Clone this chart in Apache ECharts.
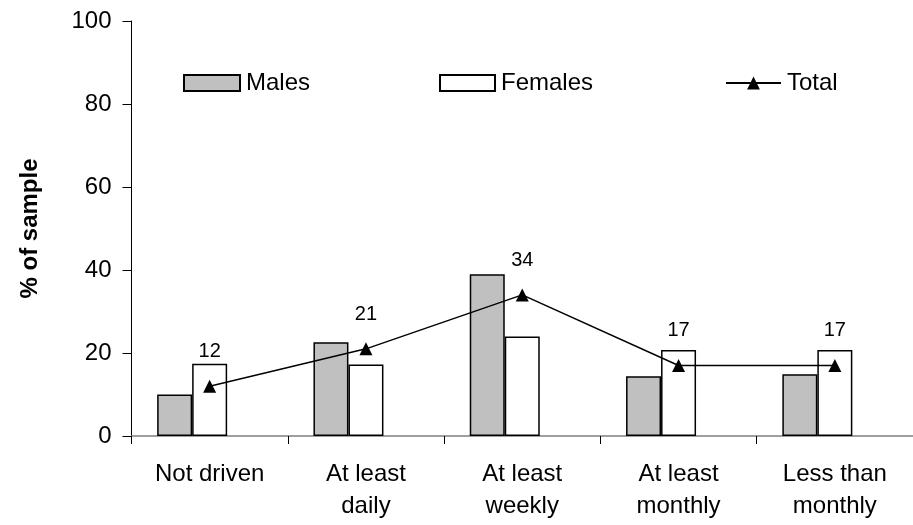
<!DOCTYPE html>
<html>
<head>
<meta charset="utf-8">
<script src="https://cdn.jsdelivr.net/npm/echarts@6/dist/echarts.min.js"></script>
<style>html,body{margin:0;padding:0;background:#fff}#c{width:913px;height:525px}</style>
</head>
<body>
<div id="c"></div>
<script>
var categories = ['Not driven', 'At least\ndaily', 'At least\nweekly', 'At least\nmonthly', 'Less than\nmonthly'];
var males = [10, 22.6, 39, 14.4, 14.9];
var females = [17.4, 17.2, 24, 20.7, 20.7];
var total = [12, 21, 34, 17, 17];
var yTicks = [0, 20, 40, 60, 80, 100];

var font = 'Liberation Sans, Arial, sans-serif';
var chart = echarts.init(document.getElementById('c'));
var legText = { fontSize: 24, color: '#000', fontFamily: font, padding: [0, 0, 0, 1] };
chart.setOption({
  animation: false,
  textStyle: { fontFamily: font, color: '#000' },
  grid: { left: 131.5, top: 21, width: 792, bottom: 89, containLabel: false },
  legend: [
    { data: ['Males'], left: 178, top: 66, itemWidth: 56, itemHeight: 16, icon: 'rect', textStyle: legText },
    { data: ['Females'], left: 434, top: 66, itemWidth: 55, itemHeight: 16, icon: 'rect', textStyle: legText },
    { data: ['Total'], left: 720, top: 66, itemWidth: 55, itemHeight: 16, textStyle: legText }
  ],
  xAxis: {
    type: 'category',
    data: categories,
    boundaryGap: true,
    axisLine: { lineStyle: { color: '#808080', width: 1.5 } },
    axisTick: { show: true, length: 8, lineStyle: { color: '#000', width: 1 } },
    axisLabel: { fontSize: 24, color: '#000', margin: 22, lineHeight: 32, fontFamily: font }
  },
  yAxis: {
    type: 'value',
    min: yTicks[0], max: yTicks[yTicks.length - 1], interval: 20,
    name: '% of sample',
    nameLocation: 'middle',
    nameRotate: 90,
    nameGap: 89,
    nameTextStyle: { fontSize: 24, fontWeight: 'bold', color: '#000', fontFamily: font },
    splitLine: { show: false },
    axisLine: { show: true, lineStyle: { color: '#000', width: 1 } },
    axisTick: { show: true, inside: false, length: 9, lineStyle: { color: '#000' } },
    axisLabel: { fontSize: 24, color: '#000', margin: 20, fontFamily: font }
  },
  series: [
    { name: 'Males', type: 'bar', data: males, barWidth: 35, barGap: '0%',
      itemStyle: { color: '#c0c0c0', borderColor: '#000', borderWidth: 1.5 } },
    { name: 'Females', type: 'bar', data: females, barWidth: 35, barGap: '0%',
      itemStyle: { color: '#fff', borderColor: '#000', borderWidth: 1.5 } },
    { name: 'spacer', type: 'bar', data: [null, null, null, null, null], barWidth: 35, barGap: '0%' },
    { name: 'Total', type: 'line', data: total, symbol: 'triangle', symbolSize: 13,
      lineStyle: { color: '#000', width: 1.5 }, itemStyle: { color: '#000' },
      label: { show: true, position: 'top', distance: 18, fontSize: 20, color: '#000', fontFamily: font },
      z: 5 }
  ]
});
</script>
</body>
</html>
